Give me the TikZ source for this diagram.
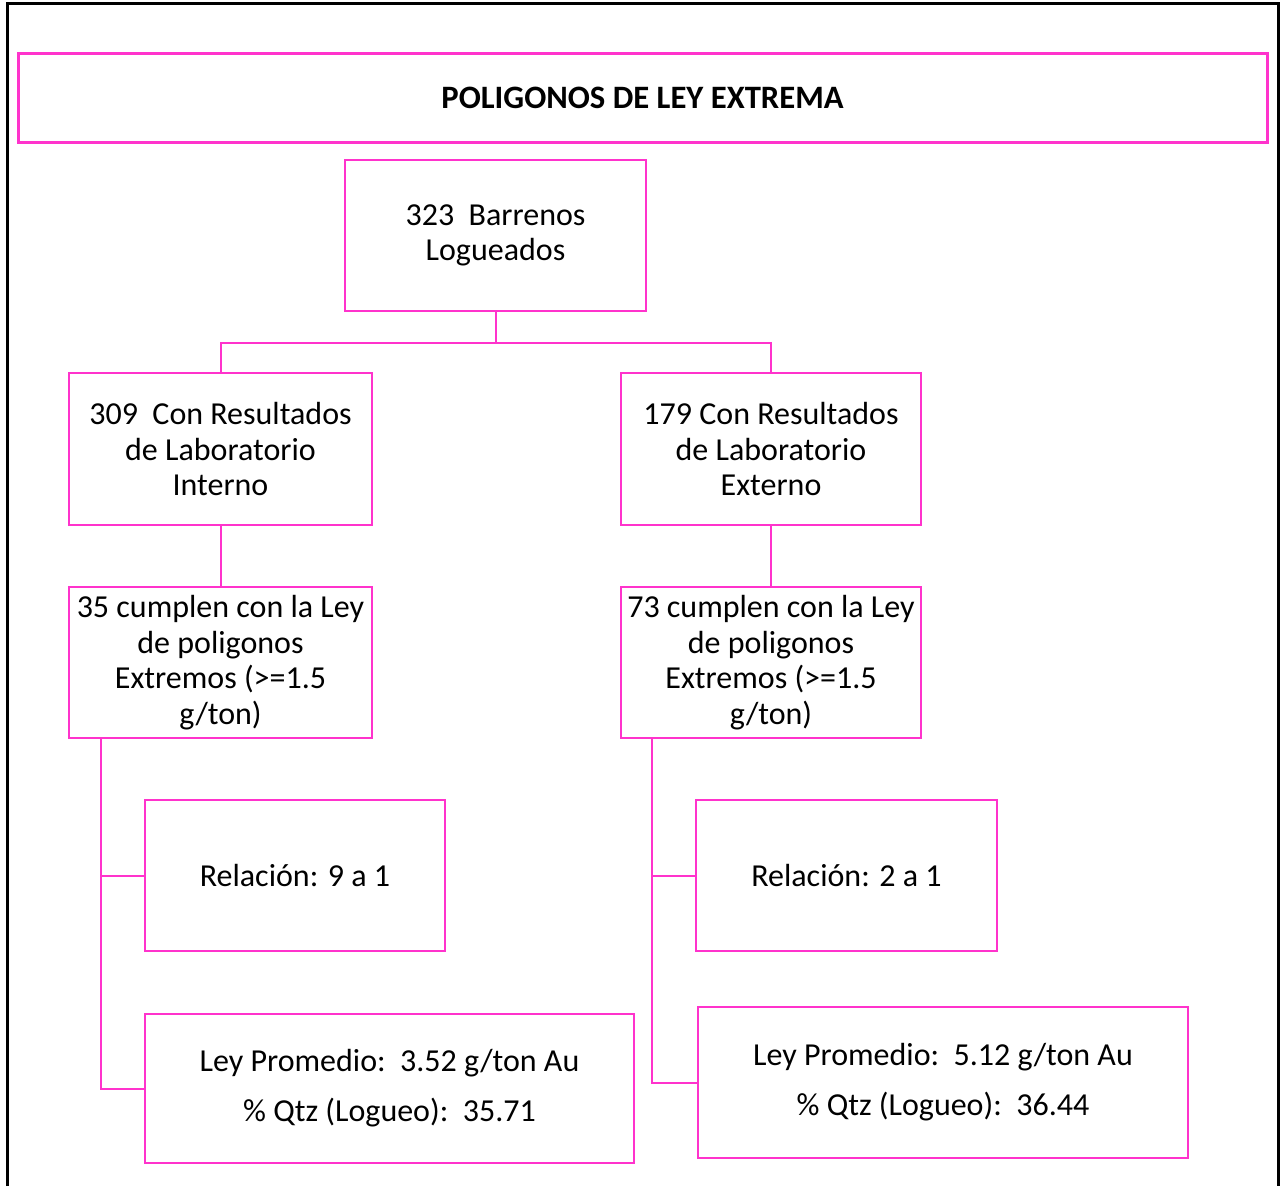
\documentclass[tikz,border=0pt]{standalone}
\usepackage{fontspec}
\setmainfont{Carlito}
\definecolor{boxpink}{HTML}{FF33CC}
\begin{document}
\begin{tikzpicture}[x=0.75pt,y=-0.75pt,
  every node/.style={inner sep=0pt, outer sep=0pt},
  bx/.style={draw=boxpink, line width=1.5pt, align=center, anchor=center,
             font=\fontsize{24}{26.6}\selectfont},
  link/.style={draw=boxpink, line width=1.5pt}]
\useasboundingbox (0,0) rectangle (1280,1186);
% outer frame
\draw[line width=2.25pt] (7,1186) -- (7,3.5) -- (1278,3.5) -- (1278,1186);
% title
\node[bx, line width=2.25pt, minimum width=1249*0.75pt, minimum height=89*0.75pt,
      font=\fontsize{24.5}{28}\selectfont\bfseries] (title) at (642.5,97.5) {POLIGONOS DE LEY EXTREMA};
% tree
\node[bx, minimum width=301*0.75pt, minimum height=151*0.75pt] (top) at (495.5,235.5) {323\ \ Barrenos\\Logueados};
\node[bx, minimum width=303*0.75pt, minimum height=152*0.75pt] (l2) at (220.5,449) {309\ \ Con Resultados\\de Laboratorio\\Interno};
\node[bx, minimum width=300*0.75pt, minimum height=152*0.75pt] (r2) at (771,449) {179\ Con Resultados\\de Laboratorio\\Externo};
\node[bx, minimum width=303*0.75pt, minimum height=151*0.75pt] (l3) at (220.5,662.5) {35 cumplen con la Ley\\de poligonos\\Extremos (>=1.5\\g/ton)};
\node[bx, minimum width=300*0.75pt, minimum height=151*0.75pt] (r3) at (771,662.5) {73 cumplen con la Ley\\de poligonos\\Extremos (>=1.5\\g/ton)};
\node[bx, minimum width=300*0.75pt, minimum height=151*0.75pt] (lrel) at (295,875.5) {Relación: 9 a 1};
\node[bx, minimum width=301*0.75pt, minimum height=151*0.75pt] (rrel) at (846.5,875.5) {Relación: 2 a 1};
\node[bx, minimum width=489*0.75pt, minimum height=149*0.75pt] (lley) at (389.5,1088.5) {Ley Promedio:\ \ 3.52 g/ton Au\\[11pt]\%\ Qtz (Logueo):\ \ 35.71};
\node[bx, minimum width=490*0.75pt, minimum height=151*0.75pt] (rley) at (943,1082.5) {Ley Promedio:\ \ 5.12 g/ton Au\\[11pt]\%\ Qtz (Logueo):\ \ 36.44};
% connectors
\coordinate (j) at (495.5,343);
\draw[link] (top.south) -- (j);
\draw[link] (l2.north) |- (j) -| (r2.north);
\draw[link] (l2.south) -- (l3.north);
\draw[link] (r2.south) -- (r3.north);
\coordinate (lt) at (101,738);
\coordinate (rt) at (652,738);
\draw[link] (lt) |- (lley.west);
\draw[link] (lt) |- (lrel.west);
\draw[link] (rt) |- (rley.west);
\draw[link] (rt) |- (rrel.west);
\end{tikzpicture}
\end{document}
